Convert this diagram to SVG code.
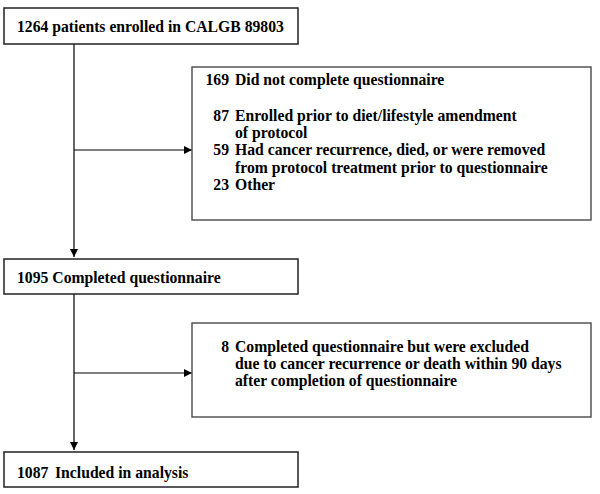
<svg xmlns="http://www.w3.org/2000/svg" width="600" height="494" viewBox="0 0 600 494">
<defs>
<style>
.box{fill:#fff;stroke:#222;stroke-width:1.5}
.gbox{fill:#fff;stroke:#555;stroke-width:1.5}
text{font-family:"Liberation Serif","Times New Roman",serif;font-weight:bold;font-size:15.7px;fill:#000}
.num{text-anchor:end}
.conn{fill:none;stroke:#000;stroke-width:1.2}
</style>
<marker id="arr" viewBox="0 0 10 10" refX="10" refY="5" markerWidth="8" markerHeight="8" markerUnits="userSpaceOnUse" orient="auto">
<path d="M0,0 L10,5 L0,10 z" fill="#000"/>
</marker>
</defs>
<rect width="600" height="494" fill="#fff"/>
<g id="connectors">
<line class="conn" x1="74" y1="44" x2="74" y2="257" marker-end="url(#arr)"/>
<line class="conn" x1="74" y1="150" x2="192" y2="150" marker-end="url(#arr)"/>
<line class="conn" x1="74" y1="294" x2="74" y2="450" marker-end="url(#arr)"/>
<line class="conn" x1="74" y1="373" x2="192" y2="373" marker-end="url(#arr)"/>
</g>
<g id="enrolled">
<rect class="box" x="4" y="8" width="294" height="36"/>
<text x="17" y="32">1264 patients enrolled in CALGB 89803</text>
</g>
<g id="excluded1">
<rect class="gbox" x="192" y="67" width="399" height="153"/>
<text class="num" x="229" y="85">169</text><text x="235" y="85">Did not complete questionnaire</text>
<text class="num" x="229" y="121">87</text><text x="235" y="121">Enrolled prior to diet/lifestyle amendment</text>
<text x="235" y="138">of protocol</text>
<text class="num" x="229" y="155">59</text><text x="235" y="155">Had cancer recurrence, died, or were removed</text>
<text x="235" y="173">from protocol treatment prior to questionnaire</text>
<text class="num" x="229" y="190">23</text><text x="235" y="190">Other</text>
</g>
<g id="completed">
<rect class="box" x="4" y="259" width="294" height="35"/>
<text x="17" y="283">1095 Completed questionnaire</text>
</g>
<g id="excluded2">
<rect class="gbox" x="192" y="323" width="399" height="94"/>
<text class="num" x="229" y="352">8</text><text x="235" y="352">Completed questionnaire but were excluded</text>
<text x="235" y="369">due to cancer recurrence or death within 90 days</text>
<text x="235" y="386">after completion of questionnaire</text>
</g>
<g id="included">
<rect class="box" x="4" y="452" width="294" height="35"/>
<text x="17" y="478">1087<tspan x="55">Included in analysis</tspan></text>
</g>
</svg>
